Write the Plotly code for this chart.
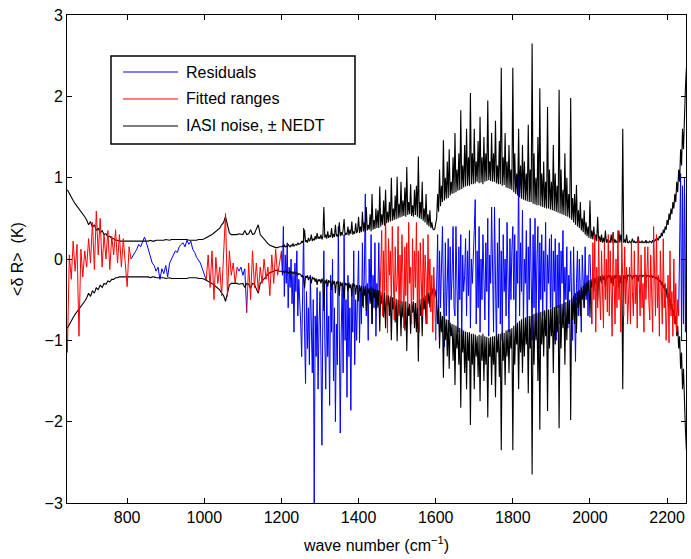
import numpy as np
import plotly.graph_objects as go

# wavenumber sampling (cm^-1): segment A 645-1195 every 5, segment B 1200-2250 every 2.5
wn_a_start, wn_a_step = 645.0, 5.0
wn_b_start, wn_b_step = 1200.0, 2.5

# IASI noise (NEDT, K), positive envelope -- segment A
nedt_a = [
    0.85, 0.80, 0.76, 0.72, 0.68, 0.65, 0.62, 0.58, 0.55, 0.52,
    0.48, 0.42, 0.46, 0.39, 0.42, 0.35, 0.38, 0.32, 0.35, 0.30,
    0.31, 0.27, 0.28, 0.25, 0.25, 0.23, 0.23, 0.22, 0.22, 0.22,
    0.22, 0.22, 0.22, 0.22, 0.22, 0.22, 0.22, 0.22, 0.22, 0.22,
    0.22, 0.22, 0.22, 0.23, 0.22, 0.22, 0.23, 0.23, 0.23, 0.23,
    0.23, 0.24, 0.23, 0.23, 0.24, 0.24, 0.24, 0.24, 0.24, 0.24,
    0.24, 0.24, 0.24, 0.23, 0.23, 0.23, 0.23, 0.23, 0.24, 0.24,
    0.24, 0.25, 0.26, 0.28, 0.29, 0.30, 0.32, 0.34, 0.36, 0.38,
    0.42, 0.45, 0.52, 0.40, 0.32, 0.30, 0.30, 0.30, 0.30, 0.31,
    0.30, 0.30, 0.35, 0.30, 0.31, 0.36, 0.30, 0.31, 0.37, 0.42,
    0.30, 0.27, 0.24, 0.21, 0.19, 0.17, 0.16, 0.15, 0.14, 0.14,
    0.15,
]
# segment B
nedt_b = [
    0.15, 0.16, 0.15, 0.17, 0.15, 0.16, 0.15, 0.18, 0.16, 0.15, 0.17, 0.16, 0.19, 0.16, 0.17, 0.18, 0.17, 0.20, 0.18, 0.19,
    0.19, 0.22, 0.20, 0.24, 0.36, 0.21, 0.23, 0.20, 0.26, 0.22, 0.24, 0.30, 0.22, 0.25, 0.23, 0.28, 0.24, 0.32, 0.25, 0.27,
    0.25, 0.30, 0.24, 0.28, 0.64, 0.26, 0.30, 0.25, 0.34, 0.26, 0.29, 0.27, 0.38, 0.26, 0.31, 0.27, 0.42, 0.28, 0.30, 0.27,
    0.45, 0.28, 0.33, 0.29, 0.36, 0.49, 0.29, 0.32, 0.30, 0.40, 0.29, 0.36, 0.31, 0.46, 0.30, 0.34, 0.31, 0.44, 0.32, 0.35,
    0.52, 0.32, 0.40, 0.33, 0.58, 0.34, 0.45, 0.33, 0.64, 0.35, 0.42, 0.36, 0.55, 0.34, 0.80, 0.36, 0.48, 0.37, 0.62, 0.38,
    0.60, 0.38, 0.89, 0.40, 0.55, 0.42, 0.72, 0.41, 0.85, 0.44, 0.58, 0.45, 0.70, 0.46, 1.00, 0.47, 0.62, 0.48, 0.78, 0.49,
    1.01, 0.50, 0.68, 0.51, 0.95, 0.52, 0.72, 0.53, 0.88, 0.52, 1.13, 0.54, 0.70, 0.55, 0.92, 0.53, 0.66, 0.52, 0.85, 0.54,
    0.90, 0.52, 1.26, 0.50, 0.70, 0.49, 0.95, 0.47, 0.62, 0.45, 0.80, 0.42, 0.55, 0.40, 0.60, 0.38, 0.45, 0.37, 0.36, 0.37,
    0.42, 0.50, 0.80, 0.58, 1.10, 0.65, 0.90, 0.70, 1.46, 0.72, 1.00, 0.74, 1.20, 0.75, 1.35, 0.78, 0.95, 0.80, 1.25, 0.81,
    1.55, 0.82, 1.10, 0.84, 1.30, 0.85, 1.83, 0.86, 1.15, 0.88, 1.40, 0.89, 1.60, 0.90, 1.25, 0.90, 2.04, 0.92, 1.30, 0.92,
    1.60, 0.93, 1.20, 0.95, 1.45, 0.93, 1.75, 0.94, 1.25, 0.92, 1.50, 0.95, 1.30, 0.96, 1.95, 0.97, 1.20, 0.96, 1.55, 0.95,
    1.30, 0.95, 1.70, 0.93, 1.15, 0.92, 1.45, 0.92, 2.35, 0.90, 1.25, 0.91, 1.55, 0.88, 1.20, 0.87, 1.40, 0.86, 1.10, 0.85,
    2.35, 0.82, 1.30, 0.80, 1.05, 0.78, 1.60, 0.76, 1.15, 0.74, 1.40, 0.73, 1.20, 0.72, 1.05, 0.71, 1.65, 0.70, 1.10, 0.70,
    2.65, 0.68, 1.30, 0.67, 1.00, 0.66, 1.50, 0.66, 2.10, 0.65, 1.05, 0.64, 1.20, 0.63, 0.95, 0.62, 1.87, 0.62, 1.10, 0.61,
    0.95, 0.60, 1.40, 0.59, 1.05, 0.58, 0.90, 0.57, 2.08, 0.56, 1.10, 0.55, 0.85, 0.54, 1.30, 0.53, 1.00, 0.52, 0.80, 0.50,
    1.98, 0.48, 0.75, 0.45, 0.80, 0.42, 0.91, 0.40, 0.60, 0.38, 0.70, 0.35, 0.50, 0.33, 0.60, 0.30, 0.45, 0.28, 0.40, 0.26,
    0.72, 0.25, 0.35, 0.24, 0.40, 0.23, 0.30, 0.22, 0.52, 0.21, 0.28, 0.21, 0.30, 0.20, 0.26, 0.20, 0.35, 0.20, 0.24, 0.20,
    0.22, 0.20, 0.30, 0.20, 0.33, 0.20, 0.24, 0.20, 0.22, 0.20, 0.35, 0.20, 0.30, 0.20, 1.60, 0.20, 0.24, 0.20, 0.30, 0.20,
    0.20, 0.22, 0.20, 0.21, 0.25, 0.20, 0.22, 0.20, 0.21, 0.20, 0.28, 0.20, 0.21, 0.20, 0.22, 0.20, 0.21, 0.20, 0.23, 0.20,
    0.21, 0.20, 0.22, 0.21, 0.20, 0.23, 0.21, 0.22, 0.24, 0.22, 0.26, 0.23, 0.28, 0.26, 0.32, 0.28, 0.36, 0.32, 0.40, 0.36,
    0.48, 0.42, 0.56, 0.48, 0.62, 0.55, 0.70, 0.62, 0.80, 0.70, 0.95, 0.82, 1.10, 0.95, 1.35, 1.15, 1.60, 1.35, 1.90, 2.10,
    2.35,
]

# mean residual <dR> (K) -- segment A
residual_a = [
    -1.15, 0.05, -0.25, 0.22, -0.15, 0.18, -0.95, 0.12, -0.22, 0.10,
    -0.10, 0.25, -0.05, 0.45, -0.13, 0.59, 0.05, 0.50, -0.10, 0.30,
    0.00, 0.35, -0.13, 0.28, 0.05, 0.36, -0.05, 0.30, -0.10, 0.25,
    -0.05, -0.34, 0.15, 0.00, 0.05, 0.08, 0.12, 0.18, 0.15, 0.22,
    0.27, 0.20, 0.12, 0.02, -0.05, -0.08, -0.15, -0.10, -0.25, -0.12,
    -0.18, -0.08, -0.22, -0.05, 0.00, 0.05, 0.10, 0.08, 0.15, 0.18,
    0.20, 0.15, 0.23, 0.18, 0.22, 0.12, 0.08, 0.02, -0.02, -0.05,
    -0.12, -0.18, -0.26, 0.05, -0.35, 0.10, -0.50, 0.02, -0.30, -0.10,
    -0.45, 0.15, 0.56, -0.46, 0.10, -0.20, -0.05, -0.30, -0.10, -0.15,
    -0.10, -0.20, -0.12, -0.66, -0.05, -0.50, 0.10, -0.35, -0.05, -0.40,
    -0.10, -0.30, 0.00, -0.25, -0.10, -0.45, 0.05, -0.30, 0.12, -0.20,
    -0.05,
]
# segment B
residual_b = [
    0.10, -0.20, 0.40, -0.46, 0.05, -0.30, 0.20, -0.60, -0.10, -0.35, 0.00, -0.55, -0.20, -0.90, -0.05, -0.40, 0.10, -0.70, -0.25, -0.50,
    -0.80, -1.20, -0.30, 0.38, -0.90, -1.53, -0.40, -1.10, -0.60, -1.30, -0.20, -0.95, -1.40, -0.50, -3.00, -0.70, -1.20, -0.35, -1.60, -0.80,
    -0.40, -1.20, -2.29, -0.60, 0.10, -1.00, -1.60, -0.30, -1.20, -0.70, -1.80, -0.20, -0.90, 0.00, -1.50, -0.60, -2.00, -0.80, -1.30, 0.40,
    -0.60, -2.14, -0.90, -0.30, -1.40, 0.30, -1.00, -0.50, -1.70, -0.20, -1.20, -0.60, -1.86, -0.40, -0.90, 0.10, -1.30, -0.50, -1.00, -0.20,
    0.10, -1.03, -0.40, -0.80, 0.20, -0.60, -0.20, 0.80, -0.70, -0.30, -1.00, 0.00, -0.50, 0.30, -0.80, -0.20, -0.60, 0.20, -0.95, -0.30,
    -0.50, 0.20, -0.60, -0.10, 0.35, -0.70, 0.10, -0.40, 0.56, -0.30, -0.91, 0.25, -0.20, 0.10, -0.60, 0.40, -0.10, -0.75, 0.15, -0.40,
    -0.30, 0.40, -0.70, 0.05, -0.55, 0.30, -0.20, -0.85, 0.15, -0.45, 0.20, -0.60, 0.45, -0.30, -0.10, -0.80, 0.25, -0.50, 0.10, -0.35,
    0.45, -0.60, 0.10, -0.90, 0.20, -0.35, -0.70, 0.25, -0.50, 0.05, -0.20, -0.80, 0.30, -0.40, 0.00, -0.65, -0.20, -0.90, -0.10, -0.50,
    -1.00, -0.20, 0.30, -0.80, 0.10, -0.60, -0.10, 0.40, -0.40, -1.08, 0.20, -0.70, -0.30, 0.25, -0.90, 0.15, -0.50, -0.20, 0.40, -0.60,
    -0.70, 0.40, -0.30, -0.90, 0.15, -0.50, 0.30, -1.00, 0.05, -0.40, -0.20, 0.25, -0.70, 0.10, -0.45, 0.35, -0.85, 0.00, -0.30, 0.20,
    0.35, 0.73, -0.80, 0.10, -0.60, 0.40, -0.90, 0.00, -0.50, 0.30, -0.20, -0.75, 0.20, -0.40, 0.50, -0.95, 0.05, -0.30, 0.64, -0.60,
    -0.90, 0.64, -0.30, -1.10, 0.20, -0.60, 0.50, -0.80, 0.10, -1.00, 0.30, -0.40, 0.00, -0.70, 0.45, -0.20, -0.90, 0.25, -0.50, 0.10,
    0.40, -0.50, 0.30, -0.90, 0.10, -0.30, 1.09, -0.70, 0.20, -0.40, 0.60, -0.80, 0.00, -0.30, 0.35, -1.00, 0.15, -0.50, 0.50, -0.20,
    -1.00, 0.30, -0.60, 0.50, -0.80, 0.00, 0.40, -1.10, 0.20, -0.50, 0.30, -0.70, 0.10, -0.40, 0.45, -0.90, 0.05, -0.30, 0.25, -0.60,
    0.30, -0.90, 0.10, -0.40, 0.25, -1.00, 0.05, -0.60, 0.20, -0.80, 0.10, -0.30, 0.35, -0.70, -0.10, -0.50, 0.15, -0.85, -0.20, -0.40,
    0.10, -0.50, -1.00, 0.15, -0.60, -1.26, -0.30, 0.10, -0.70, 0.00, -0.40, -0.90, 0.05, -0.30, -0.60, 0.15, -0.50, -0.20, -0.70, 0.05,
    0.05, -0.30, -0.80, 0.20, -0.50, 0.30, -0.90, -0.10, -0.60, 0.25, -0.40, -0.75, 0.10, -0.30, -0.85, 0.20, -0.50, 0.00, -0.65, 0.30,
    -0.70, 0.10, -0.40, -0.95, 0.30, -0.30, -0.80, 0.00, -0.60, 0.35, -0.50, -0.20, -0.90, 0.20, -0.40, -0.70, 0.15, -0.55, -0.10, -0.80,
    -0.50, -0.10, -0.80, 0.20, -0.40, -0.70, 0.10, -0.55, -0.20, -0.85, 0.25, -0.45, -0.70, 0.05, -0.60, -0.30, -0.90, 0.15, -0.50, -0.20,
    0.15, -0.50, -0.75, 0.05, -0.40, -0.90, 0.40, -0.30, -0.70, 0.30, -0.60, -0.20, -0.95, 0.10, -0.45, -0.80, 0.25, -0.60, -0.30, -1.00,
    -0.60, -0.20, -1.03, 0.10, -0.70, -0.40, -0.95, 0.00, -0.80, -0.30, -0.90, -0.50, -0.70, 0.60, 1.05, -1.00, 0.90, -0.80, 1.00, -0.90,
    0.80,
]

# spectral windows used in the fit (cm^-1)
fitted_ranges = [(645, 810), (1005, 1085), (1110, 1200), (1455, 1600), (2005, 2230)]

x_ticks = [800, 1000, 1200, 1400, 1600, 1800, 2000, 2200]
y_ticks = [-3, -2, -1, 0, 1, 2, 3]

legend_labels = ["Residuals", "Fitted ranges", "IASI noise, ± NEDT"]
legend_colors = ["#0000ff", "#ff0000", "#000000"]

# assemble
wn_res = np.concatenate([wn_a_start + wn_a_step * np.arange(len(residual_a)),
                         wn_b_start + wn_b_step * np.arange(len(residual_b))])
res = np.array(residual_a + residual_b, dtype=float)
wn_nd = np.concatenate([wn_a_start + wn_a_step * np.arange(len(nedt_a)),
                        wn_b_start + wn_b_step * np.arange(len(nedt_b))])
nd = np.array(nedt_a + nedt_b, dtype=float)

fit = np.zeros(len(wn_res), dtype=bool)
for a, b in fitted_ranges:
    fit |= (wn_res >= a) & (wn_res <= b)
# blue shown outside fitted windows (keeping window edge points for continuity)
edge = np.zeros_like(fit)
edge[1:] |= ~fit[:-1]
edge[:-1] |= ~fit[1:]
blue_y = [v if (not f or e) else None for v, f, e in zip(res, fit, edge)]
red_y = [v if f else None for v, f in zip(res, fit)]

font = "Liberation Sans, Arial, Helvetica, sans-serif"

fig = go.Figure()
fig.add_trace(go.Scatter(x=wn_res, y=blue_y, mode="lines", name=legend_labels[0],
                         line=dict(color=legend_colors[0], width=1)))
fig.add_trace(go.Scatter(x=wn_nd, y=nd, mode="lines", name=legend_labels[2],
                         line=dict(color=legend_colors[2], width=1.1)))
fig.add_trace(go.Scatter(x=wn_nd, y=-nd, mode="lines", showlegend=False,
                         line=dict(color=legend_colors[2], width=1.1)))
fig.add_trace(go.Scatter(x=wn_res, y=red_y, mode="lines", name=legend_labels[1],
                         line=dict(color=legend_colors[1], width=1)))

axis_common = dict(showline=True, linecolor="black", linewidth=1, mirror="allticks",
                   ticks="inside", ticklen=5, tickcolor="black", showgrid=False,
                   zeroline=False, tickfont=dict(family=font, size=16, color="black"))

# MATLAB-style legend box (paper coordinates of the plot area)
W, H = 691, 559
L, R, T, B = 67, 5, 15, 56
pw, ph = W - L - R, H - T - B
def px(x):
    return (x - L) / pw
def py(y):
    return (H - B - y) / ph

shapes = [dict(type="rect", xref="paper", yref="paper",
               x0=px(111), x1=px(355), y0=py(144), y1=py(56),
               line=dict(color="black", width=1.5), fillcolor="white", layer="above")]
annotations = []
for i, (lab, col) in enumerate(zip(legend_labels, legend_colors)):
    yy = 72 + 27 * i
    shapes.append(dict(type="line", xref="paper", yref="paper",
                       x0=px(123), x1=px(178), y0=py(yy), y1=py(yy),
                       line=dict(color=col, width=1.2), layer="above"))
    annotations.append(dict(xref="paper", yref="paper", x=px(184), y=py(yy),
                            xanchor="left", yanchor="middle", showarrow=False,
                            text=lab, font=dict(family=font, size=16, color="black")))

fig.update_layout(
    width=W, height=H,
    margin=dict(l=L, r=R, t=T, b=B),
    paper_bgcolor="white", plot_bgcolor="white",
    font=dict(family=font, size=16, color="black"),
    xaxis=dict(range=[644, 2249], tickvals=x_ticks,
               title=dict(text="wave number (cm<sup>−1</sup>)", standoff=14,
                          font=dict(family=font, size=16)),
               **axis_common),
    yaxis=dict(range=[-3, 3], tickvals=y_ticks,
               title=dict(text="<δ R>  (K)", standoff=16,
                          font=dict(family=font, size=16)),
               **axis_common),
    shapes=shapes,
    annotations=annotations,
    showlegend=False,
)

fig.write_html("out.html", config={"displayModeBar": False},
               post_script="document.body.style.margin='0';")
